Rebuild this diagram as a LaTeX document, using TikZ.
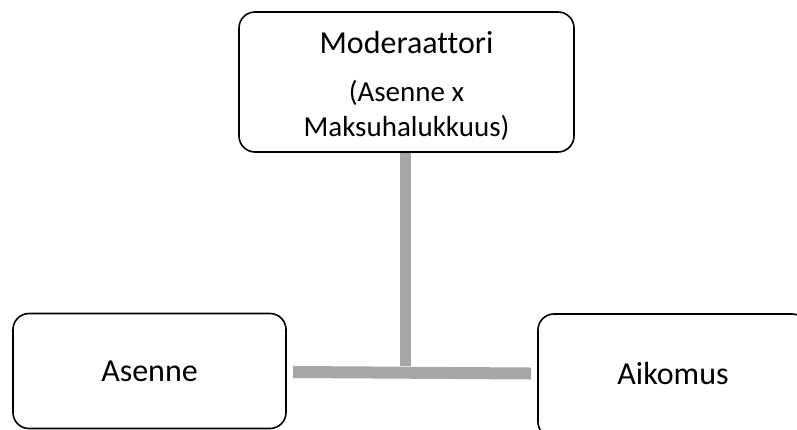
\documentclass[tikz,border=0pt]{standalone}
\usepackage{fontspec}
\setmainfont{Carlito}[Ligatures=CommonOff]
\definecolor{bargray}{HTML}{A6A6A6}
\begin{document}
\begin{tikzpicture}[x=1pt,y=-1pt,
  card/.style={draw=black, line width=1.6pt, rounded corners=16pt, fill=white,
    inner sep=0pt, font=\fontsize{32}{35}\selectfont, align=center},
  bar/.style={draw=bargray, line cap=butt}]
  \useasboundingbox (0,0) rectangle (797,429);
  \clip (0,0) rectangle (797,429);
  % moderator box
  \node[card, minimum width=335pt, minimum height=140pt] (mod) at (406.5,82)
    {\raisebox{-5.5pt}[\height][\depth]{\begin{tabular}{@{}c@{}}
      Moderaattori\\[13pt]
      {\fontsize{29}{35}\selectfont (Asenne x}\\
      {\fontsize{29}{35}\selectfont Maksuhalukkuus)}
    \end{tabular}}};
  % independent and dependent variable boxes
  \node[card, minimum width=273pt, minimum height=115pt] (asenne) at (149.5,371) {Asenne};
  \node[card, minimum width=270pt, minimum height=124pt] (aikomus) at (673,376)
    {\raisebox{3pt}[\height][\depth]{Aikomus}};
  % connector points on the horizontal bar
  \coordinate (barL) at (293,372);
  \coordinate (barR) at (531,373.5);
  \coordinate (joint) at (405.5,366);
  \draw[bar, line width=11pt] (mod.south -| joint) -- (joint);
  \draw[bar, line width=12pt] (barL) -- (barR);
\end{tikzpicture}
\end{document}
